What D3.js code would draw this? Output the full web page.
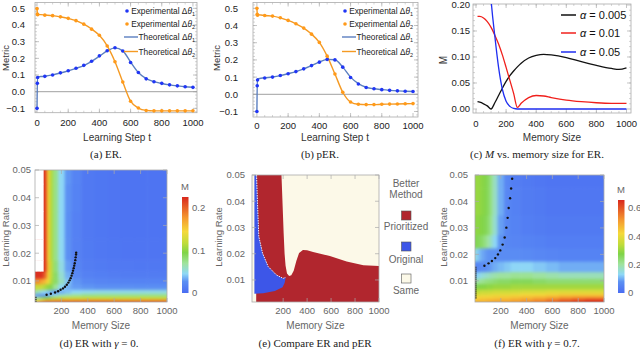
<!DOCTYPE html>
<html>
<head>
<meta charset="utf-8">
<script src="https://cdn.jsdelivr.net/npm/d3@7/dist/d3.min.js"></script>
<style>
  body { margin: 0; background: #fff; }
  svg { display: block; }
  text { font-family: "Liberation Sans", Arial, sans-serif; }
  .cap { font-family: "Liberation Serif", "Times New Roman", serif; font-size: 11px; fill: #222; }
</style>
</head>
<body>
<svg id="fig" width="640" height="352"></svg>
<script>
// ---- (a) ER and (b) pER: metric vs learning step ----
const expSteps = [0, 2, 4, 50, 100, 150, 200, 250, 300, 350, 400, 450, 500, 550, 600, 650, 700, 750, 800, 850, 900, 950, 1000];
const thSteps  = [0, 3, 25, 50, 100, 150, 200, 250, 300, 350, 400, 450, 500, 550, 600, 650, 700, 750, 800, 850, 900, 950, 1000];

const erExp1 = [-0.1, 0.05, 0.085, 0.092, 0.10, 0.113, 0.126, 0.141, 0.158, 0.183, 0.215, 0.246, 0.264, 0.244, 0.175, 0.115, 0.077, 0.06, 0.05, 0.041, 0.035, 0.03, 0.026];
const erExp2 = [0.498, 0.466, 0.462, 0.459, 0.456, 0.449, 0.44, 0.426, 0.405, 0.375, 0.339, 0.274, 0.18, 0.058, -0.057, -0.098, -0.113, -0.115, -0.115, -0.115, -0.115, -0.115, -0.114];
const erTh1  = [-0.1, 0.09, 0.091, 0.093, 0.101, 0.112, 0.125, 0.14, 0.157, 0.182, 0.213, 0.245, 0.263, 0.245, 0.178, 0.115, 0.078, 0.06, 0.049, 0.041, 0.035, 0.03, 0.027];
const erTh2  = [0.5, 0.465, 0.462, 0.46, 0.456, 0.449, 0.44, 0.426, 0.405, 0.376, 0.338, 0.275, 0.18, 0.058, -0.057, -0.098, -0.112, -0.115, -0.115, -0.115, -0.115, -0.115, -0.115];

const perExp1 = [-0.1, 0.05, 0.083, 0.095, 0.1, 0.109, 0.12, 0.132, 0.148, 0.167, 0.187, 0.203, 0.2, 0.158, 0.098, 0.06, 0.04, 0.032, 0.027, 0.023, 0.02, 0.018, 0.016];
const perExp2 = [0.5, 0.465, 0.46, 0.458, 0.455, 0.445, 0.43, 0.41, 0.385, 0.35, 0.302, 0.222, 0.118, 0.012, -0.045, -0.058, -0.06, -0.06, -0.058, -0.057, -0.056, -0.055, -0.054];
const perTh1  = [-0.1, 0.09, 0.093, 0.096, 0.101, 0.109, 0.12, 0.132, 0.148, 0.167, 0.187, 0.203, 0.201, 0.158, 0.1, 0.062, 0.041, 0.032, 0.027, 0.023, 0.02, 0.018, 0.016];
const perTh2  = [0.5, 0.465, 0.461, 0.458, 0.455, 0.445, 0.43, 0.41, 0.385, 0.35, 0.302, 0.222, 0.118, 0.012, -0.045, -0.058, -0.06, -0.06, -0.058, -0.057, -0.056, -0.055, -0.054];

// ---- (c) M vs memory size ----
const memC   = [10, 25, 50, 75, 100, 125, 150, 175, 200, 225, 250, 275, 300, 350, 400, 450, 500, 600, 700, 800, 900, 950, 1000];
const mA005  = [0.014, 0.013, 0.01, 0.006, 0.0, 0.012, 0.026, 0.04, 0.053, 0.064, 0.073, 0.081, 0.088, 0.098, 0.103, 0.105, 0.104, 0.099, 0.091, 0.084, 0.078, 0.076, 0.079];
const mA01   = [0.178, 0.178, 0.175, 0.168, 0.157, 0.142, 0.125, 0.104, 0.08, 0.055, 0.03, 0.003, 0.011, 0.022, 0.026, 0.025, 0.022, 0.017, 0.014, 0.012, 0.011, 0.011, 0.011];
const mA05   = [0.6, 0.55, 0.45, 0.32, 0.21, 0.14, 0.08, 0.038, 0.015, 0.005, 0.001, 0, 0, 0, 0, 0, 0, 0, 0, 0, 0, 0, 0];
const alphaLabels = ['0.005', '0.01', '0.05'];

// ---- (d) ER with gamma = 0 (null = above colour range) ----
const gridMem = [0, 25, 50, 75, 100, 125, 150, 200, 250, 300, 400, 500, 600, 700, 800, 900, 1000];
const dLr = [0.0025, 0.003, 0.004, 0.005, 0.006, 0.008, 0.010, 0.012, 0.015, 0.020, 0.030, 0.040, 0.050];
const dM = [
  [.16, .18, .20, .21, .21, .21, .21, .21, .21, .21, .21, .21, .21, .21, .21, .21, .21],
  [.12, .14, .15, .16, .17, .17, .175, .18, .18, .18, .18, .18, .18, .18, .18, .18, .18],
  [.06, .07, .08, .09, .10, .105, .11, .115, .12, .12, .12, .12, .12, .12, .12, .12, .12],
  [.03, .025, .025, .025, .03, .04, .05, .06, .065, .07, .075, .075, .075, .075, .075, .075, .075],
  [.07, .06, .05, .045, .04, .035, .03, .035, .04, .045, .048, .05, .05, .05, .05, .05, .05],
  [.12, .12, .12, .11, .10, .09, .07, .045, .035, .03, .028, .027, .027, .027, .026, .026, .026],
  [.18, .18, .17, .16, .14, .11, .085, .06, .04, .028, .021, .019, .018, .017, .017, .017, .017],
  [.22, .22, .22, .20, .15, .115, .085, .055, .035, .022, .016, .014, .013, .012, .012, .012, .012],
  [null, null, null, .22, .155, .115, .08, .05, .03, .018, .013, .011, .010, .010, .009, .009, .009],
  [null, null, null, .22, .15, .11, .075, .046, .027, .016, .011, .009, .008, .007, .007, .007, .007],
  [null, null, null, .22, .15, .11, .075, .045, .026, .016, .010, .008, .007, .006, .006, .006, .006],
  [null, null, null, .22, .15, .11, .075, .045, .027, .017, .010, .008, .007, .006, .006, .006, .006],
  [null, null, null, .22, .15, .11, .075, .045, .028, .018, .010, .008, .007, .006, .006, .006, .006]
];
const dDots = [[88, 0.005], [120, 0.0054], [152, 0.0058], [175, 0.0063], [194, 0.0068], [212, 0.0073], [227, 0.0079], [241, 0.0086], [253, 0.0094], [262, 0.0102], [270, 0.011], [277, 0.0119], [283, 0.0128], [288, 0.0137], [293, 0.0146], [297, 0.0155], [301, 0.0164], [305, 0.0175], [308, 0.0185], [311, 0.0195], [312, 0.0202]];
const dEdge = [[0, 0.0024], [0, 0.0045]];

// ---- (e) which method is better ----
const eRedBoundary = [[-25, 0.05], [186, 0.05], [195, 0.039], [204, 0.028], [212, 0.02], [220, 0.0155], [232, 0.0125], [250, 0.0115], [268, 0.0118], [288, 0.0135], [310, 0.0172], [333, 0.0203], [365, 0.0214], [400, 0.0213], [450, 0.0207], [590, 0.0191], [730, 0.017], [870, 0.0156], [1000, 0.0153], [1000, 0.0016], [-25, 0.0016]];
const eBlueBoundary = [[-40, 0.05], [-22, 0.05], [-14, 0.039], [-3, 0.0265], [28, 0.0202], [75, 0.0151], [144, 0.0119], [200, 0.0106], [222, 0.011], [212, 0.0088], [195, 0.0072], [131, 0.0058], [33, 0.0049], [-40, 0.0047]];
const eClasses = ['Prioritized', 'Original', 'Same'];

// ---- (f) ER with gamma = 0.7 ----
const fLr = [0.0025, 0.003, 0.004, 0.005, 0.006, 0.008, 0.010, 0.012, 0.015, 0.020, 0.025, 0.030, 0.040, 0.050];
const fM = [
  [.47, .48, .48, .48, .49, .49, .50, .50, .50, .51, .53, .55, .58, .61, .63, .65, .65],
  [.45, .46, .46, .46, .47, .47, .47, .48, .48, .49, .50, .52, .55, .58, .60, .62, .62],
  [.42, .42, .43, .43, .43, .43, .44, .44, .44, .45, .46, .47, .48, .50, .51, .51, .51],
  [.38, .38, .39, .39, .39, .40, .40, .40, .40, .41, .42, .42, .43, .44, .44, .44, .44],
  [.34, .34, .35, .35, .35, .35, .36, .36, .36, .36, .37, .37, .38, .38, .38, .38, .38],
  [.26, .27, .28, .28, .29, .29, .30, .30, .30, .31, .31, .31, .31, .31, .31, .31, .31],
  [.19, .20, .21, .22, .23, .23, .24, .25, .25, .26, .26, .25, .24, .24, .24, .24, .24],
  [.12, .13, .15, .16, .17, .18, .19, .20, .20, .21, .21, .20, .19, .18, .18, .18, .18],
  [.06, .06, .07, .07, .08, .09, .10, .11, .12, .13, .13, .12, .11, .10, .10, .10, .10],
  [.15, .12, .10, .09, .08, .08, .08, .07, .07, .07, .065, .06, .055, .05, .05, .05, .05],
  [.27, .26, .25, .23, .20, .17, .13, .08, .06, .055, .05, .045, .04, .04, .04, .04, .04],
  [.29, .29, .28, .27, .25, .21, .16, .09, .06, .05, .04, .035, .03, .03, .03, .03, .03],
  [.30, .30, .29, .28, .26, .22, .17, .10, .06, .045, .035, .03, .025, .025, .025, .025, .025],
  [.30, .30, .29, .28, .26, .22, .17, .10, .06, .04, .03, .025, .02, .02, .02, .02, .02]
];
const fDots = [[73, 0.0157], [105, 0.0166], [131, 0.0175], [157, 0.0186], [178, 0.02], [196, 0.0215], [214, 0.0237], [230, 0.0264], [243, 0.0301], [253, 0.0338], [261, 0.0375], [272, 0.0412], [280, 0.0449], [288, 0.0486]];
const fEdge = [[0, 0.0033], [0, 0.0155]];

const rainbowStops  = [0, 0.12, 0.2, 0.31, 0.42, 0.52, 0.64, 0.78, 1];
const rainbowColors = ['#4a6cf2', '#5c90f3', '#8fd8f6', '#9fe39c', '#7fd447', '#c0dc3a', '#f5d93a', '#f59a30', '#d9281d'];

const C = {
  dotBlue: '#2036f5', dotOrange: '#ff9a1a', lineBlue: '#5b7fc0', lineOrange: '#f59a23',
  frame: '#ababab', red: '#b1262e', blue: '#3d56e8', cream: '#fcf9e8'
};

const svg = d3.select('#fig');
const defs = svg.append('defs');
defs.append('filter').attr('id', 'soft')
  .attr('color-interpolation-filters', 'sRGB')
  .append('feGaussianBlur').attr('stdDeviation', 1.8);

function clipUrl(id, x, y) {
  const [x0, x1] = x.range(), [yb, yt] = y.range();
  defs.append('clipPath').attr('id', id).append('rect')
    .attr('x', x0).attr('y', yt).attr('width', x1 - x0).attr('height', yb - yt);
  return `url(#${id})`;
}

function txt(x, y, s, o = {}) {
  return svg.append('text').attr('x', x).attr('y', y)
    .attr('text-anchor', o.anchor || 'middle')
    .attr('font-size', o.size || 10)
    .attr('fill', o.fill || '#222')
    .text(s);
}

function vtxt(x, y, s, o = {}) {
  return svg.append('text').attr('transform', `translate(${x},${y}) rotate(-90)`)
    .attr('text-anchor', 'middle').attr('dy', '0.35em')
    .attr('font-size', o.size || 10).attr('fill', o.fill || '#222').text(s);
}

function frame(x, y, xMaj, xMin, yMaj, yMin) {
  const g = svg.append('g').attr('stroke', C.frame).attr('fill', 'none');
  const [x0, x1] = x.range(), [yb, yt] = y.range();
  const xd = x.domain(), yd = y.domain();
  const inX = v => v >= xd[0] && v <= xd[1];
  const inY = v => v >= yd[0] && v <= yd[1];
  const tick = (a, b, c, d, w) => g.append('line').attr('x1', a).attr('y1', b).attr('x2', c).attr('y2', d).attr('stroke-width', w);
  xMaj.filter(inX).forEach(v => { const p = x(v); tick(p, yb, p, yb - 4, 0.7); tick(p, yt, p, yt + 4, 0.7); });
  xMin.filter(inX).forEach(v => { const p = x(v); tick(p, yb, p, yb - 2, 0.5); tick(p, yt, p, yt + 2, 0.5); });
  yMaj.filter(inY).forEach(v => { const p = y(v); tick(x0, p, x0 + 4, p, 0.7); tick(x1, p, x1 - 4, p, 0.7); });
  yMin.filter(inY).forEach(v => { const p = y(v); tick(x0, p, x0 + 2, p, 0.5); tick(x1, p, x1 - 2, p, 0.5); });
  g.append('rect').attr('x', x0).attr('y', yt).attr('width', x1 - x0).attr('height', yb - yt).attr('stroke-width', 0.8);
}

function xLabels(x, vals, yPos, fmt, fill) {
  vals.forEach(v => txt(x(v), yPos, fmt(v), { size: 9.5, fill }));
}
function yLabels(y, vals, xPos, fmt, fill) {
  vals.forEach(v => txt(xPos, y(v) + 3.4, fmt(v), { anchor: 'end', size: 9.5, fill }));
}

// ---------- (a), (b) ----------
function legendLabel(xEnd, y, word, sub) {
  const t = svg.append('text').attr('x', xEnd).attr('y', y + 3).attr('text-anchor', 'end')
    .attr('font-size', 8.3).attr('fill', '#222');
  t.append('tspan').text(word + ' \u0394');
  t.append('tspan').attr('font-style', 'italic').text('\u03b8');
  t.append('tspan').attr('font-size', 5.5).attr('dy', 2).text(sub);
}

function curvePanel(x, y, e1, e2, t1, t2, legEnd) {
  const [x0, x1] = x.range();
  frame(x, y, d3.range(0, 1001, 200), d3.range(50, 1000, 50), d3.range(-0.1, 0.51, 0.1), d3.range(-0.12, 0.54, 0.02));
  svg.append('line').attr('x1', x0).attr('x2', x1).attr('y1', y(0)).attr('y2', y(0))
    .attr('stroke', '#a0a0a0').attr('stroke-width', 1);
  const line = d3.line().curve(d3.curveMonotoneX);
  [[t1, C.lineBlue], [t2, C.lineOrange]].forEach(([vals, c]) => {
    svg.append('path').attr('d', line(thSteps.map((s, i) => [x(s), y(vals[i])])))
      .attr('fill', 'none').attr('stroke', c).attr('stroke-width', 1.4);
  });
  [[e1, C.dotBlue], [e2, C.dotOrange]].forEach(([vals, c]) => {
    svg.append('g').selectAll('circle').data(expSteps).join('circle')
      .attr('cx', s => x(s)).attr('cy', (s, i) => y(vals[i])).attr('r', 1.8).attr('fill', c);
  });
  const rows = [11, 24, 37, 51.5];
  svg.append('circle').attr('cx', legEnd - 68).attr('cy', rows[0]).attr('r', 1.8).attr('fill', C.dotBlue);
  svg.append('circle').attr('cx', legEnd - 68).attr('cy', rows[1]).attr('r', 1.8).attr('fill', C.dotOrange);
  svg.append('line').attr('x1', legEnd - 71).attr('x2', legEnd - 57).attr('y1', rows[2]).attr('y2', rows[2]).attr('stroke', C.lineBlue).attr('stroke-width', 1.4);
  svg.append('line').attr('x1', legEnd - 71).attr('x2', legEnd - 57).attr('y1', rows[3]).attr('y2', rows[3]).attr('stroke', C.lineOrange).attr('stroke-width', 1.4);
  legendLabel(legEnd, rows[0], 'Experimental', '1');
  legendLabel(legEnd, rows[1], 'Experimental', '2');
  legendLabel(legEnd, rows[2], 'Theoretical', '1');
  legendLabel(legEnd, rows[3], 'Theoretical', '2');
}

const aX = d3.scaleLinear().domain([-13, 1026]).range([35, 197]);
const aY = d3.scaleLinear().domain([-0.126, 0.535]).range([112.7, 2.5]);
curvePanel(aX, aY, erExp1, erExp2, erTh1, erTh2, 195);
yLabels(aY, [-0.1, 0, 0.1, 0.2, 0.3, 0.4, 0.5], 25, d3.format('.1f'), '#222');
xLabels(aX, [0, 200, 400, 600, 800, 1000], 125.5, d3.format('d'), '#222');
txt(117, 140.5, 'Learning Step t', { fill: '#333' });
vtxt(6, 58, 'Metric', { fill: '#333', size: 9.5 });
txt(106, 158, '(a) ER.').attr('class', 'cap');

const bX = d3.scaleLinear().domain([-25, 1032]).range([253, 418]);
const bY = d3.scaleLinear().domain([-0.132, 0.534]).range([117, 2.5]);
curvePanel(bX, bY, perExp1, perExp2, perTh1, perTh2, 413);
yLabels(bY, [-0.1, 0, 0.1, 0.2, 0.3, 0.4, 0.5], 238, d3.format('.1f'), '#222');
xLabels(bX, [0, 200, 400, 600, 800, 1000], 128.5, d3.format('d'), '#222');
txt(335, 141, 'Learning Step t', { fill: '#333' });
vtxt(217, 58, 'Metric', { fill: '#333', size: 9.5 });
txt(320, 158, '(b) pER.').attr('class', 'cap');

// ---------- (c) ----------
const cX = d3.scaleLinear().domain([-20, 1030]).range([473, 631]);
const cY = d3.scaleLinear().domain([-0.0077, 0.2019]).range([113, 4]);
frame(cX, cY, d3.range(0, 1001, 200), d3.range(50, 1000, 50), d3.range(0, 0.201, 0.05), d3.range(0.01, 0.2, 0.01));
const cClip = clipUrl('clipC', cX, cY);
const cLine = d3.line().curve(d3.curveMonotoneX);
const cSeries = [[mA005, '#111111'], [mA01, '#f0201c'], [mA05, '#1f2ef0']];
const cg = svg.append('g').attr('clip-path', cClip);
cSeries.forEach(([vals, c]) => {
  cg.append('path').attr('d', cLine(memC.map((m, i) => [cX(m), cY(vals[i])])))
    .attr('fill', 'none').attr('stroke', c).attr('stroke-width', 1.3);
});
[15, 33, 52].forEach((yy, i) => {
  svg.append('line').attr('x1', 561).attr('x2', 576).attr('y1', yy).attr('y2', yy)
    .attr('stroke', cSeries[i][1]).attr('stroke-width', 1.5);
  const t = svg.append('text').attr('x', 580).attr('y', yy + 4).attr('font-size', 11).attr('fill', '#111');
  t.append('tspan').attr('font-style', 'italic').text('\u03b1');
  t.append('tspan').text(' = ' + alphaLabels[i]);
});
yLabels(cY, [0, 0.05, 0.1, 0.15, 0.2], 470, d3.format('.2f'), '#222');
xLabels(cX, [0, 200, 400, 600, 800, 1000], 126.5, d3.format('d'), '#222');
txt(552, 141, 'Memory Size', { fill: '#333' });
vtxt(443, 60, 'M', { fill: '#333' });
{
  const t = txt(537, 158, '(c) ').attr('class', 'cap');
  t.append('tspan').attr('font-style', 'italic').text('M');
  t.append('tspan').text(' vs. memory size for ER.');
}

// ---------- heatmaps ----------
function rainbow(vmax) {
  return d3.scaleLinear().domain(rainbowStops.map(s => s * vmax)).range(rainbowColors).clamp(true);
}

function heatmap(x, y, mems, lrs, grid, color, clipId) {
  const [x0, x1] = x.range(), [yb, yt] = y.range();
  const px = mems.map(m => x(m)), py = lrs.map(l => y(l));
  const bx = [x0 - 8], by = [yb + 8];
  for (let i = 1; i < px.length; i++) bx.push((px[i - 1] + px[i]) / 2);
  bx.push(x1 + 8);
  for (let j = 1; j < py.length; j++) by.push((py[j - 1] + py[j]) / 2);
  by.push(yt - 8);
  const cells = [];
  grid.forEach((row, j) => row.forEach((v, i) => cells.push({
    x: bx[i], w: bx[i + 1] - bx[i], y: by[j + 1], h: by[j] - by[j + 1], v
  })));
  const outer = svg.append('g').attr('clip-path', clipUrl(clipId, x, y));
  outer.append('g').attr('filter', 'url(#soft)')
    .selectAll('rect').data(cells).join('rect')
    .attr('x', d => d.x).attr('y', d => d.y)
    .attr('width', d => d.w + 0.6).attr('height', d => d.h + 0.6)
    .attr('fill', d => d.v == null ? color(d3.max(color.domain())) : color(d.v));
  // values above the colour range are left white, with a sharp edge
  outer.append('g').selectAll('rect').data(cells.filter(d => d.v == null)).join('rect')
    .attr('x', d => d.x).attr('y', d => d.y)
    .attr('width', d => d.w + 0.4).attr('height', d => d.h + 0.4)
    .attr('fill', '#fff');
}

function dots(x, y, pts, edge) {
  svg.append('line').attr('x1', x(edge[0][0]) + 0.8).attr('x2', x(edge[1][0]) + 0.8)
    .attr('y1', y(edge[0][1])).attr('y2', y(edge[1][1]))
    .attr('stroke', '#111').attr('stroke-width', 1.4).attr('stroke-dasharray', '1.2 0.8');
  svg.append('g').selectAll('circle').data(pts).join('circle')
    .attr('cx', d => x(d[0])).attr('cy', d => y(d[1])).attr('r', 1.2).attr('fill', '#111');
}

function colorbar(id, x, yTop, yBot, vmax, ticks, fmt) {
  const grad = defs.append('linearGradient').attr('id', id)
    .attr('x1', 0).attr('y1', 1).attr('x2', 0).attr('y2', 0);
  rainbowStops.forEach((s, i) => grad.append('stop').attr('offset', s).attr('stop-color', rainbowColors[i]));
  svg.append('rect').attr('x', x).attr('y', yTop).attr('width', 6.5).attr('height', yBot - yTop)
    .attr('fill', `url(#${id})`);
  const s = d3.scaleLinear().domain([0, vmax]).range([yBot, yTop]);
  ticks.forEach(v => txt(x + 10, s(v) + 3.4, fmt(v), { anchor: 'start', size: 9.5, fill: '#666' }));
  txt(x + 3, yTop - 7, 'M', { size: 9.5, fill: '#666' });
}

const grey = '#666';
const lrTicks = [0.01, 0.02, 0.03, 0.04, 0.05];
const memTicks = [200, 400, 600, 800, 1000];

function heatAxes(x, y, yLabX, titleX) {
  frame(x, y, memTicks, [], lrTicks, []);
  yLabels(y, lrTicks, yLabX, d3.format('.2f'), grey);
  xLabels(x, memTicks, 313.5, d3.format('d'), grey);
  txt((x.range()[0] + x.range()[1]) / 2, 329, 'Memory Size', { fill: grey });
  vtxt(titleX, 237, 'Learning Rate', { fill: grey, size: 9.5 });
}

// (d)
const dX = d3.scaleLinear().domain([0, 1000]).range([35, 167]);
const dY = d3.scaleLinear().domain([0.0024, 0.05]).range([302, 170]);
heatmap(dX, dY, gridMem, dLr, dM, rainbow(0.224), 'clipD');
dots(dX, dY, dDots, dEdge);
heatAxes(dX, dY, 31, 6);
colorbar('gradD', 182, 197, 293, 0.224, [0, 0.1, 0.2], d3.format('.1~f'));
{
  const t = txt(99, 347, '(d) ER with ').attr('class', 'cap');
  t.append('tspan').attr('font-style', 'italic').text('\u03b3');
  t.append('tspan').text(' = 0.');
}

// (e)
const eX = d3.scaleLinear().domain([-60, 1000]).range([252, 379]);
const eY = d3.scaleLinear().domain([0.0016, 0.05]).range([302, 175]);
{
  const g = svg.append('g').attr('clip-path', clipUrl('clipE', eX, eY));
  g.append('rect').attr('x', 252).attr('y', 175).attr('width', 127).attr('height', 127).attr('fill', C.cream);
  const poly = d3.line().x(d => eX(d[0])).y(d => eY(d[1]));
  g.append('path').attr('d', poly(eRedBoundary) + 'Z').attr('fill', C.red);
  g.append('path').attr('d', poly(eBlueBoundary) + 'Z').attr('fill', C.blue);
  g.append('path').attr('d', poly(eBlueBoundary.slice(1, 9)))
    .attr('fill', 'none').attr('stroke', '#eef0ff').attr('stroke-width', 1).attr('stroke-dasharray', '1.5 1');
}
heatAxes(eX, eY, 245, 219);
txt(406, 187, 'Better', { fill: grey });
txt(406, 198, 'Method', { fill: grey });
[[C.red, 211, 230], [C.blue, 242, 263], [C.cream, 274, 294]].forEach(([c, ys, yt], i) => {
  svg.append('rect').attr('x', 401.5).attr('y', ys).attr('width', 9.5).attr('height', 9)
    .attr('fill', c).attr('stroke', '#555').attr('stroke-width', 0.6);
  txt(406, yt, eClasses[i], { fill: grey });
});
txt(315, 347, '(e) Compare ER and pER').attr('class', 'cap');

// (f)
const fX = d3.scaleLinear().domain([0, 1000]).range([475, 604]);
const fY = d3.scaleLinear().domain([0.002, 0.05]).range([302, 175]);
heatmap(fX, fY, gridMem, fLr, fM, rainbow(0.657), 'clipF');
dots(fX, fY, fDots, fEdge);
heatAxes(fX, fY, 468, 444);
colorbar('gradF', 618, 200, 293, 0.657, [0, 0.2, 0.4, 0.6], d3.format('.1~f'));
{
  const t = txt(537, 347, '(f) ER with ').attr('class', 'cap');
  t.append('tspan').attr('font-style', 'italic').text('\u03b3');
  t.append('tspan').text(' = 0.7.');
}
</script>
</body>
</html>
